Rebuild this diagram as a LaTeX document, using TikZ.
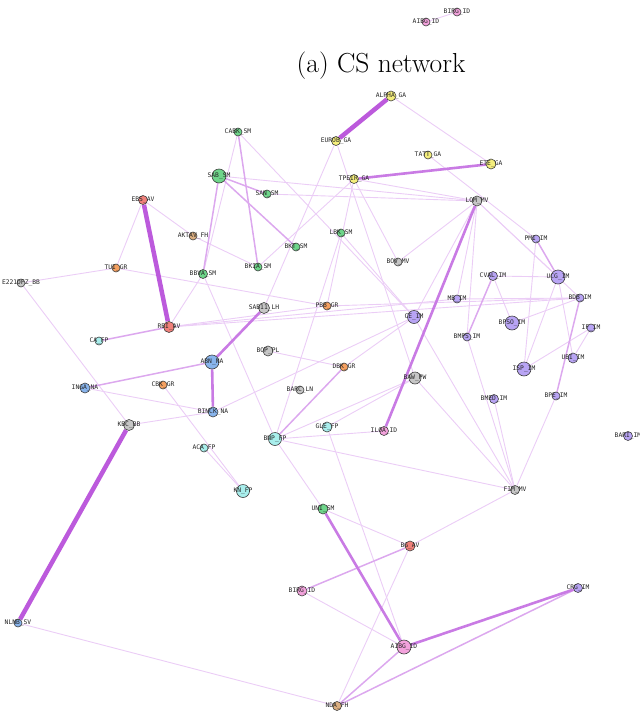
\documentclass[tikz,border=0pt]{standalone}
\usepackage{fontspec}
\newfontfamily\lblfont{DejaVu Sans Mono}
\pgfdeclarelayer{bg}
\pgfsetlayers{bg,main}
\definecolor{yel}{HTML}{F4EE7C}
\definecolor{grn}{HTML}{6ED58A}
\definecolor{gry}{HTML}{C6C6C6}
\definecolor{sal}{HTML}{F0807A}
\definecolor{org}{HTML}{F5A060}
\definecolor{tanc}{HTML}{DCAE80}
\definecolor{cyn}{HTML}{A8EEEC}
\definecolor{blu}{HTML}{88B4EC}
\definecolor{pur}{HTML}{B8A4F4}
\definecolor{pnk}{HTML}{F3A2DC}
\definecolor{edgeA}{HTML}{EBCDF6}
\definecolor{edgeB}{HTML}{DCA8EE}
\definecolor{edgeC}{HTML}{C97BE4}
\definecolor{edgeD}{HTML}{BC5ADC}
\tikzset{
  bank/.style={circle,draw=black!75,line width=0.6pt,inner sep=0pt,minimum size=#1},
  lbl/.style={font=\lblfont\fontsize{6.3}{7}\selectfont,text=black!85,inner sep=0pt},
  ea/.style={draw=edgeA,line width=0.9pt},
  eb/.style={draw=edgeB,line width=1.5pt},
  ec/.style={draw=edgeC,line width=2.6pt},
  ed/.style={draw=edgeD,line width=4.5pt},
}
\newcommand{\bk}[6]{%
  \node[bank=#4,fill=#5] (#1) at (#2,#3) {};
  \node[lbl] (l#1) at (#2,#3) {#6};
}
\begin{document}
\begin{tikzpicture}[x=1pt,y=-1pt]
\useasboundingbox (0,0) rectangle (640,715);
\node[font=\fontsize{27.5}{32}\selectfont,anchor=base] (title) at (381,72) {(a) CS network};
% nodes
\bk{tBIRG}{457}{12}{8pt}{pnk}{BIRG\_ID}
\bk{tAIBG}{426}{22}{8pt}{pnk}{AIBG\_ID}
\bk{ALPHA}{391}{96}{10pt}{yel}{ALPHA\_GA}
\bk{EUROB}{336}{141}{9pt}{yel}{EUROB\_GA}
\bk{TATT}{428}{155}{8pt}{yel}{TATT\_GA}
\bk{CABK}{238}{132}{8pt}{grn}{CABK\_SM}
\bk{SAB}{219}{176}{14pt}{grn}{SAB\_SM}
\bk{SAN}{267}{194}{8pt}{grn}{SAN\_SM}
\bk{TPEIR}{354}{179}{9pt}{yel}{TPEIR\_GA}
\bk{ETE}{491}{164}{10pt}{yel}{ETE\_GA}
\bk{LOM}{477}{201}{10pt}{gry}{LOM\_MV}
\bk{EBS}{143}{200}{9pt}{sal}{EBS\_AV}
\bk{AKT}{193}{236}{8pt}{tanc}{AKTAV\_FH}
\bk{BKT}{296}{247}{8pt}{grn}{BKT\_SM}
\bk{LBK}{341}{233}{8pt}{grn}{LBK\_SM}
\bk{BKIA}{258}{267}{8pt}{grn}{BKIA\_SM}
\bk{BOV}{398}{262}{8pt}{gry}{BOV\_MV}
\bk{TUI}{116}{268}{8pt}{org}{TUI\_GR}
\bk{BBVA}{203}{274}{9pt}{grn}{BBVA\_SM}
\bk{EBB}{21}{283}{8pt}{gry}{E221DFZ\_BB}
\bk{PMI}{536}{239}{8pt}{pur}{PMI\_IM}
\bk{CVAL}{493}{276}{9pt}{pur}{CVAL\_IM}
\bk{UCG}{558}{277}{14pt}{pur}{UCG\_IM}
\bk{MB}{457}{299}{8pt}{pur}{MB\_IM}
\bk{BDB}{580}{298}{8pt}{pur}{BDB\_IM}
\bk{SABL}{264}{308}{11pt}{gry}{SAB11\_LH}
\bk{PBB}{327}{306}{8pt}{org}{PBB\_GR}
\bk{CE}{414}{317}{13pt}{pur}{CE\_IM}
\bk{RBI}{169}{327}{11pt}{sal}{RBI\_AV}
\bk{CA}{99}{341}{8pt}{cyn}{CA\_FP}
\bk{IF}{591}{328}{8pt}{pur}{IF\_IM}
\bk{BPSO}{512}{323}{14pt}{pur}{BPSO\_IM}
\bk{BMPS}{467}{337}{8pt}{pur}{BMPS\_IM}
\bk{BOP}{268}{351}{10pt}{gry}{BOP\_PL}
\bk{ABN}{212}{362}{14pt}{blu}{ABN\_NA}
\bk{UBI}{573}{358}{10pt}{pur}{UBI\_IM}
\bk{DBK}{344}{367}{8pt}{org}{DBK\_GR}
\bk{CBK}{163}{385}{8pt}{org}{CBK\_GR}
\bk{INGA}{85}{388}{10pt}{blu}{INGA\_NA}
\bk{ISP}{524}{369}{14pt}{pur}{ISP\_IM}
\bk{BPE}{556}{396}{8pt}{pur}{BPE\_IM}
\bk{BAW}{415}{378}{12pt}{gry}{BAW\_PW}
\bk{BARC}{300}{390}{8pt}{gry}{BARC\_LN}
\bk{BINCK}{213}{412}{10pt}{blu}{BINCK\_NA}
\bk{KBC}{129}{425}{11pt}{gry}{KBC\_BB}
\bk{BMED}{494}{399}{9pt}{pur}{BMED\_IM}
\bk{ILA}{384}{431}{9pt}{pnk}{IL0A\_ID}
\bk{GLE}{327}{427}{10pt}{cyn}{GLE\_FP}
\bk{BNP}{275}{439}{13pt}{cyn}{BNP\_FP}
\bk{ACA}{204}{448}{8pt}{cyn}{ACA\_FP}
\bk{BARI}{628}{436}{9pt}{pur}{BARI\_IM}
\bk{KN}{243}{491}{13pt}{cyn}{KN\_FP}
\bk{FIM}{515}{490}{9pt}{gry}{FIM\_MV}
\bk{UNI}{323}{509}{10pt}{grn}{UNI\_SM}
\bk{BG}{410}{546}{10pt}{sal}{BG\_AV}
\bk{BIRG}{302}{591}{10pt}{pnk}{BIRG\_ID}
\bk{NLNB}{18}{623}{8pt}{blu}{NLNB\_SV}
\bk{CRG}{578}{588}{9pt}{pur}{CRG\_IM}
\bk{AIBG}{404}{647}{14pt}{pnk}{AIBG\_ID}
\bk{NDA}{337}{706}{9pt}{tanc}{NDA\_FH}
% edges
\begin{pgfonlayer}{bg}
\draw[ea] (tAIBG) -- (tBIRG);
\foreach \a/\b in {ALPHA/ETE, EUROB/SABL, EUROB/BAW, TPEIR/BKIA, TPEIR/BOV, TPEIR/PBB, TPEIR/LOM,
  SAB/LOM, SAN/LOM, CABK/BBVA, CABK/CE, LBK/CE, LBK/BNP, BOV/LOM, LOM/MB, LOM/BMPS, LOM/CE,
  LOM/UCG, LOM/BDB, TATT/PMI, PMI/ISP, UCG/CVAL, UCG/ISP, UCG/UBI, BDB/MB, BDB/BPSO, IF/UBI,
  IF/ISP, CVAL/BPSO, BPE/FIM, BMED/FIM, BAW/FIM, CE/FIM, BMPS/FIM, BNP/FIM, FIM/BG, BNP/ILA,
  BNP/BAW, GLE/BAW, GLE/AIBG, BNP/UNI, BNP/BBVA, KN/CBK, KN/ACA, INGA/BINCK, KBC/BINCK,
  EBB/KBC, EBB/TUI, TUI/EBS, TUI/PBB, RBI/BBVA, RBI/PBB, RBI/BDB, RBI/MB, BINCK/CE, BG/NDA,
  BIRG/AIBG, NLNB/NDA, UNI/BG, BOP/DBK, DBK/CE, EBS/AKT, AKT/BKIA, PBB/BDB}
  \draw[ea] (\a) -- (\b);
\foreach \a/\b in {INGA/ABN, RBI/CA, CVAL/BMPS, BDB/BPE, PMI/UCG, BNP/DBK, NDA/CRG, NDA/AIBG,
  BIRG/BG, SAB/SAN, SAB/BKT, CABK/BKIA, SAB/BBVA}
  \draw[eb] (\a) -- (\b);
\foreach \a/\b in {SABL/ABN, ABN/BINCK, TPEIR/ETE, LOM/ILA, AIBG/CRG, UNI/AIBG}
  \draw[ec] (\a) -- (\b);
\foreach \a/\b in {ALPHA/EUROB, KBC/NLNB, EBS/RBI}
  \draw[ed] (\a) -- (\b);
\end{pgfonlayer}
\end{tikzpicture}
\end{document}
